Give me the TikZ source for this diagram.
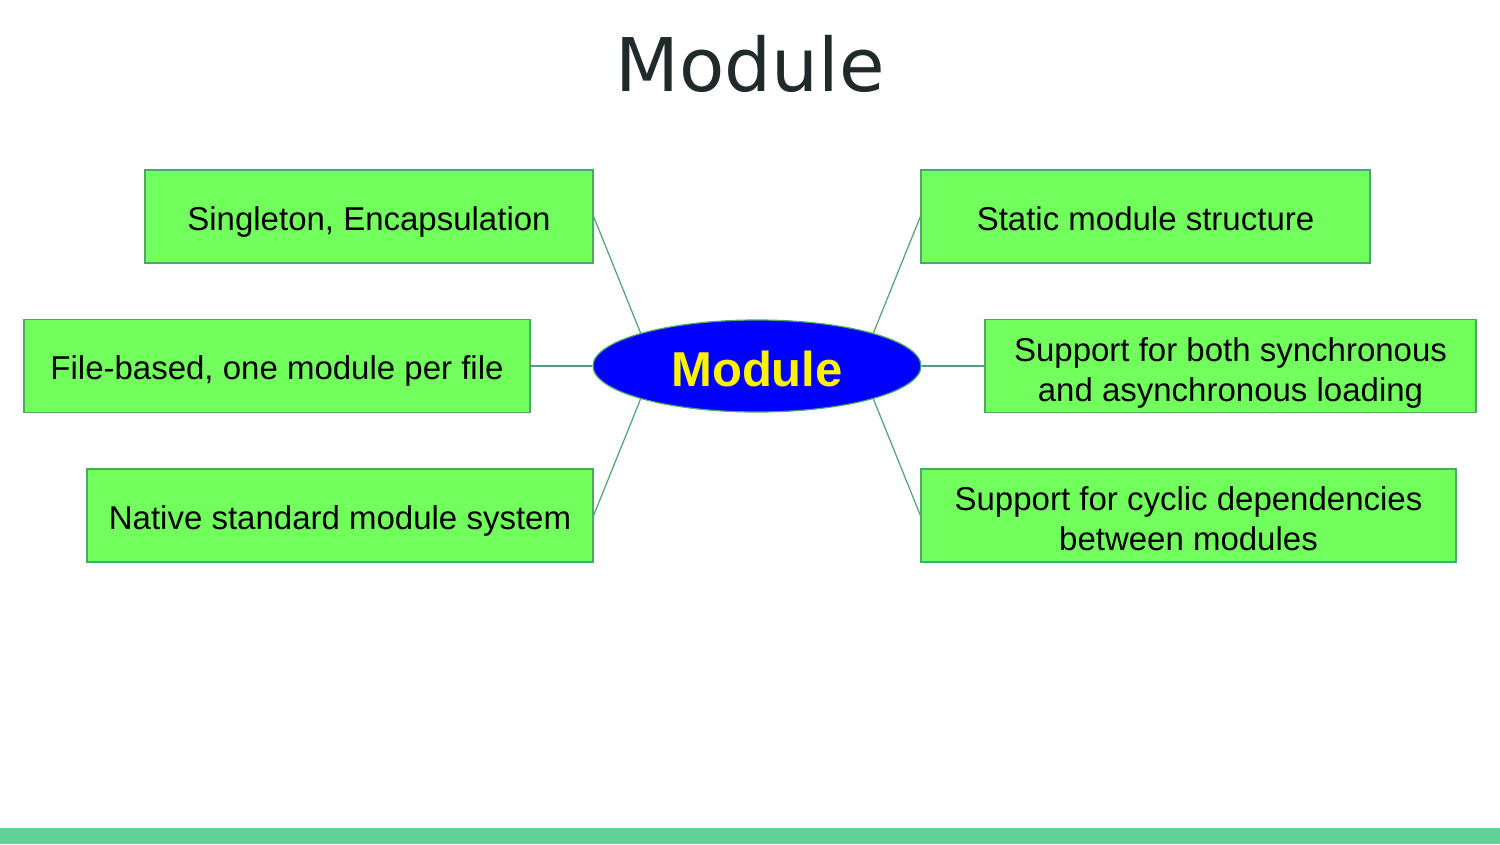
\documentclass[tikz,border=0pt]{standalone}
\usepackage{fontspec}
\setmainfont{Liberation Sans}
\newfontfamily\titlefont{DejaVu Sans}
\usetikzlibrary{shapes.geometric,positioning}
\definecolor{boxgreen}{RGB}{114,255,94}
\definecolor{edgegreen}{RGB}{76,168,100}
\definecolor{linkgreen}{RGB}{80,160,120}
\definecolor{bargreen}{RGB}{98,209,150}
\definecolor{titlegray}{RGB}{33,42,43}

\tikzset{
	topic/.style={draw=edgegreen, fill=boxgreen, line width=1.2pt, inner sep=0pt, align=center,
		minimum height=93, text height=29.9pt, text depth=2.9pt, font=\fontsize{33}{40}\selectfont},
	twoline/.style={text height=72.9pt},
	hub/.style={ellipse, draw=edgegreen, fill=blue, line width=1.2pt, inner sep=0pt,
		minimum width=328, minimum height=92, text height=41.5pt, text depth=0pt,
		text=yellow, font=\fontsize{49}{55}\selectfont\bfseries},
	link/.style={draw=linkgreen, line width=1.2pt}
}

\begin{document}
\begin{tikzpicture}[x=1pt,y=1pt,yscale=-1]
	\useasboundingbox (0,0) rectangle (1500,844);
	
	% bottom bar
	\fill [bargreen] (0,828) rectangle (1500,844);
	
	% Title
	\node (title) at (750,64) [text=titlegray, font=\titlefont\fontsize{74}{80}\selectfont] {Module};
	
	% centre
	\node [hub] (mod) at (757,366) {Module};
	
	% left side
	\node [topic, minimum width=448] (single) at (369,216.5) {Singleton, Encapsulation};
	\node [topic, minimum width=506] (file) at (277,366) {File-based, one module per file};
	\node [topic, minimum width=506] (native) at (340,515.5) {Native standard module system};
	
	% right side
	\node [topic, minimum width=449] (static) at (1145.5,216.5) {Static module structure};
	\node [topic, twoline, minimum width=491] (async) at (1230.5,366) {Support for both synchronous\\and asynchronous loading};
	\node [topic, twoline, minimum width=535] (cyclic) at (1188.5,515.5) {Support for cyclic dependencies\\between modules};
	
	% links
	\draw [link] (single.east) -- (mod.north west);
	\draw [link] (file.east) -- (mod.west);
	\draw [link] (native.east) -- (mod.south west);
	\draw [link] (static.west) -- (mod.north east);
	\draw [link] (async.west) -- (mod.east);
	\draw [link] (cyclic.west) -- (mod.south east);
	
\end{tikzpicture}
\end{document}
